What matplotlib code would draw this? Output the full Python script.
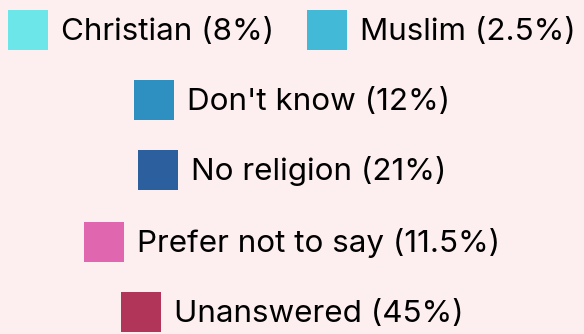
import matplotlib.pyplot as plt
from matplotlib.patches import Patch

labels = ["Christian", "Muslim", "Don't know", "No religion", "Prefer not to say", "Unanswered"]
shares = [8, 2.5, 12, 21, 11.5, 45]
colors = ["#6ce6e8", "#42b9d6", "#2e90c0", "#2c5f9e", "#e066b0", "#b03558"]
rows = [[0, 1], [2], [3], [4], [5]]
row_y = [30, 100, 170, 242, 312]  # row centres, px from top

plt.rcParams['font.family'] = ['Inter', 'DejaVu Sans']

fig = plt.figure(figsize=(5.84, 3.34), dpi=100, facecolor="#fdeef0")

for idx, yc in zip(rows, row_y):
    handles = [Patch(facecolor=colors[i], edgecolor="none") for i in idx]
    texts = [f"{labels[i]} ({shares[i]:g}%)" for i in idx]
    leg = fig.legend(handles, texts, loc="center", bbox_to_anchor=(0.5, 1 - yc / 334),
                     ncol=len(idx), frameon=False, fontsize=22.6,
                     handlelength=1.27, handleheight=1.6, handletextpad=0.42,
                     columnspacing=1.05, borderpad=0, borderaxespad=0)

fig.savefig("out.png", dpi=100, facecolor=fig.get_facecolor())
